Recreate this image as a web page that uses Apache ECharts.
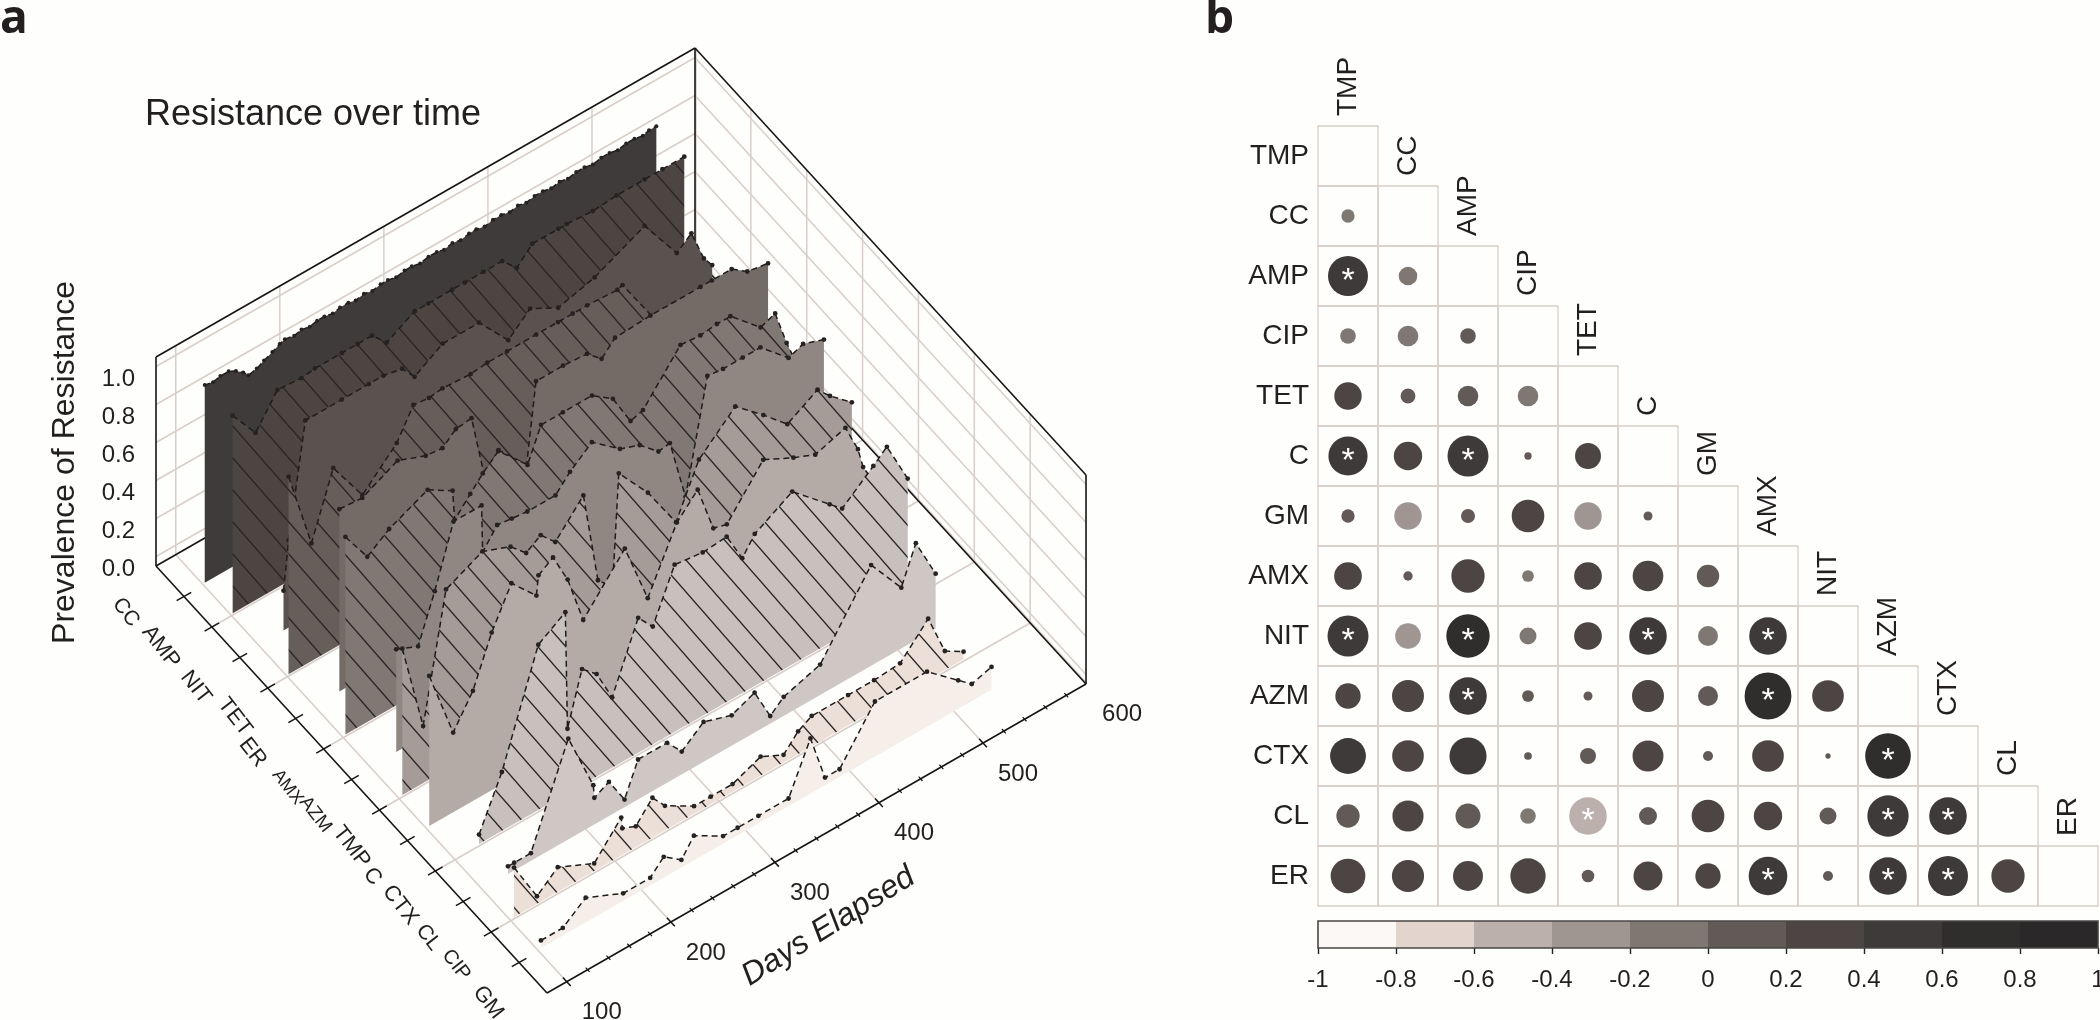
<!DOCTYPE html>
<html><head><meta charset="utf-8">
<script src="https://cdn.jsdelivr.net/npm/echarts@6/dist/echarts.min.js"></script>
<style>html,body{margin:0;padding:0;background:#fefefd}#c{width:2100px;height:1020px}</style>
</head><body><div id="c"></div>
<script>
// ---------- panel a data ----------
const drugsA = ['CC','AMP','NIT','TET','ER','AMX','AZM','TMP','C','CTX','CL','CIP','GM'];
const dayTicks = [100,200,300,400,500,600];
const dayMinorTicks = [120,140,160,180,220,240,260,280,320,340,360,380,420,440,460,480,520,540,560,580];
const zTicks = [0,0.2,0.4,0.6,0.8,1];

const daysCC = [101,109,116,124,131,138,143,151,158,166,173,178,187,194,202,209,216,224,231,239,246,254,262,270,277,285,293,300,308,316,324,331,339,347,355,362,370,378,386,394,402,410,418,426,434,442,450,458,466,474,482,490,498,506,514,522,528,535];
const valsCC = [1,0.99,1,1,0.98,0.95,0.92,0.93,0.95,0.97,0.99,1,0.99,1,0.99,1,1,0.99,1,1,0.99,1,0.99,1,1,0.99,1,1,0.99,1,1,0.99,1,0.99,1,1,0.99,1,1,0.99,1,0.99,1,1,0.99,1,0.99,1,1,0.99,1,1,0.99,1,1,0.99,1,1];
const daysAMP = [101,123,144,167,180,206,221,235,249,276,289,312,324,342,360,374,389,414,422,447,470,497,514,535];
const valsAMP = [1,0.84,1,0.99,1,1,1,1,0.92,1,1,1,1,1,1,0.92,1,1,1,0.99,1,1,1,1];
const daysNIT = [123,128,144,179,205,219,237,249,276,311,339,360,387,422,470,501,515,527,535];
const valsNIT = [0.17,0.42,1,1,1,1,0.98,0.9,0.99,0.99,0.81,0.91,0.83,0.88,1,0.76,0.82,0.65,0.59];
const daysTET = [101,123,144,172,205,221,236,249,276,292,311,339,360,374,388,417,422,450,478,505,535];
const valsTET = [1,0.58,0.91,0.68,0.85,1,0.99,1,0.99,1,1,1,1,1,1,0.99,1,0.75,0.72,0.7,0.68];
const daysER = [123,145,179,206,222,235,250,262,276,303,312,338,361,375,388,422,470,481,500,515,535];
const valsER = [0.92,0.91,1,0.94,0.93,0.99,1,0.67,0.75,0.59,1,1,0.99,0.92,0.99,1,1,1,1,0.94,0.92];
const daysAMX = [102,123,144,181,205,207,222,234,249,277,290,311,339,359,376,388,424,443,459,472,501,515,526,535];
const valsAMX = [1,0.83,0.91,1,0.92,0.76,0.85,0.92,0.99,0.83,1,1,1,0.92,0.75,0.77,1,0.99,1,1,0.85,0.88,0.69,0.56];
const daysAZM = [124,145,161,179,206,207,221,235,250,277,291,312,339,358,376,387,402,423,438,457,474,501,515,535];
const valsAZM = [0.5,0.45,0.69,1,1,0.75,0.85,0.84,0.83,0.83,0.91,1,0.88,0.84,0.75,0.76,0.43,1,0.99,0.99,0.99,0.85,0.88,0.84];
const daysTMP = [103,123,145,180,207,222,236,250,277,291,305,311,339,366,388,423,450,473,502,514,535];
const valsTMP = [0.73,0.26,0.91,1,0.94,0.86,0.91,0.83,0.99,0.5,0.42,1,0.81,0.57,0.83,1,0.87,0.75,0.84,0.77,0.67];
const daysC = [102,125,144,162,181,205,207,221,235,250,290,312,340,360,375,388,423,452,473,502,514,519,535];
const valsC = [0.75,0.38,0.54,0.79,0.99,0.85,0.95,1,0.84,0.58,0.83,0.5,0.81,0.92,0.67,0.65,0.88,0.8,0.75,0.8,0.65,0.54,0.37];
const daysCTX = [123,145,180,206,208,222,236,251,276,290,311,338,361,376,388,424,460,472,502,515,535];
const valsCTX = [0.01,0.27,0.83,0.92,0.3,0.57,0.5,0.33,0.67,0.58,0.84,0.82,0.83,0.67,0.76,0.87,0.69,0.63,0.76,0.82,0.59];
const daysCL = [124,130,146,182,206,207,221,236,249,277,291,312,339,361,376,389,424,473,502,516,535];
const valsCL = [0,0,0,0.49,0.17,0.1,0.14,0,0.17,0.17,0.08,0.17,0.12,0.17,0,0.06,0.12,0.49,0.28,0.47,0.25];
const daysCIP = [103,125,145,180,206,207,220,236,248,276,292,313,340,362,376,389,424,449,474,501,517,535];
const valsCIP = [0.22,0,0.09,0,0.16,0.1,0.07,0.17,0.09,0,0,0,0.06,0,0.08,0.12,0.12,0.12,0.13,0.28,0.06,0];
const daysGM = [102,123,145,181,207,220,237,249,277,291,311,340,361,375,389,423,473,503,516,535];
const valsGM = [0,0,0.09,0,0,0.07,0,0.09,0,0,0,0,0.25,0,0,0.25,0.25,0.11,0.05,0.08];

const ribbonDays = [daysCC,daysAMP,daysNIT,daysTET,daysER,daysAMX,daysAZM,daysTMP,daysC,daysCTX,daysCL,daysCIP,daysGM];
const ribbonVals = [valsCC,valsAMP,valsNIT,valsTET,valsER,valsAMX,valsAZM,valsTMP,valsC,valsCTX,valsCL,valsCIP,valsGM];
const ribbonFill = ['#403b3b','#4d4542','#5a524e','#665e59','#736b66','#807873','#908782','#a59c97','#b4aaa6','#c8c0bc','#cfc7c3','#ecdfd7','#f5eee9'];
const catFontSizes = [21,22,22,22,22,18,19,22,22,22,21,20,22];
const catLabelDX = [-58,-51,-44,-33,-43,-36,-36,-28,-35,-35,-35,-35,-31];
const catLabelDY = [16,20,30,29,34,38,35,37,36,34,36,33,40];

// ---------- panel b data ----------
const drugsB = ['TMP','CC','AMP','CIP','TET','C','GM','AMX','NIT','AZM','CTX','CL','ER'];
const rowTMP = [];
const rowCC  = [-0.056];
const rowAMP = [0.51,-0.11];
const rowCIP = [-0.078,-0.136,0.078];
const rowTET = [0.24,0.07,0.136,-0.136];
const rowC   = [0.49,0.256,0.536,0.017,0.215];
const rowGM  = [0.056,-0.24,0.0625,0.34,-0.24,0.026];
const rowAMX = [0.245,0.028,0.354,-0.044,0.245,0.30,0.16];
const rowNIT = [0.536,-0.21,0.60,-0.092,0.245,0.45,-0.128,0.45];
const rowAZM = [0.205,0.326,0.45,0.044,0.026,0.326,0.128,0.70,0.32];
const rowCTX = [0.41,0.32,0.44,0.019,0.082,0.306,0.032,0.32,0.009,0.665];
const rowCL  = [0.173,0.31,0.199,-0.078,-0.45,0.103,0.34,0.256,0.092,0.545,0.45];
const rowER  = [0.384,0.33,0.287,0.397,0.051,0.268,0.204,0.477,0.032,0.45,0.51,0.354];
const matrixRows = [rowTMP,rowCC,rowAMP,rowCIP,rowTET,rowC,rowGM,rowAMX,rowNIT,rowAZM,rowCTX,rowCL,rowER];
const starCells = [['AMP','TMP'],['C','TMP'],['C','AMP'],['NIT','TMP'],['NIT','AMP'],['NIT','C'],['NIT','AMX'],['AZM','AMP'],['AZM','AMX'],['CTX','AZM'],['CL','TET'],['CL','AZM'],['CL','CTX'],['ER','AMX'],['ER','AZM'],['ER','CTX']];
const binEdges = [-1,-0.8,-0.6,-0.4,-0.2,0,0.2,0.4,0.6,0.8,1];
const binColors = ['#fbf8f6','#e3d5cd','#bbb0ac','#a09691','#7f7772','#625a56','#4c4543','#3e3a39','#302d2d','#2a2829'];

// ---------- helpers ----------
const SANS = '"Liberation Sans", Arial, sans-serif';
const INK = '#231f20', GRIDC = '#d9cec8', BOX = '#161414';
const GL = 156, catDX = 27.93, catDY = 30.5, dayRise = 0.5733;
const DAY_MIN = 81, DAY_MAX = 599, Z_MIN = -0.05, Z_MAX = 1.05, CAT_MAX = 14, BASE_Z = -0.04;

function proj(api, day, cat, z) {
  const c = api.coord([day, z]);
  return [c[0] + cat * catDX, c[1] + cat * catDY - (c[0] - GL) * dayRise];
}
function seg(a, b, stroke, w) {
  return {type:'line', shape:{x1:a[0],y1:a[1],x2:b[0],y2:b[1]}, style:{stroke:stroke, lineWidth:w, fill:'none'}, silent:true};
}
function txt(x, y, s, size, opts) {
  opts = opts || {};
  return {type:'text', x:x, y:y, rotation:opts.rot||0, silent:true,
    style:{text:s, fill:INK, font:(opts.style||'')+' '+size+'px '+SANS, align:opts.align||'center', verticalAlign:opts.va||'middle'}};
}
function hatch(bg) {
  const W = 28, H = 32, cv = document.createElement('canvas');
  cv.width = W; cv.height = H;
  const g = cv.getContext('2d');
  g.fillStyle = bg; g.fillRect(0,0,W,H);
  g.strokeStyle = '#2a2626'; g.lineWidth = 1.4;
  g.beginPath();
  g.moveTo(-W,-H); g.lineTo(2*W,2*H);
  g.moveTo(0,-H); g.lineTo(2*W,H);
  g.moveTo(-W,0); g.lineTo(W,2*H);
  g.stroke();
  return {image:cv, repeat:'repeat'};
}

function frameBack(params, api) {
  const ch = [];
  const L = (d,c,z) => proj(api,d,c,z);
  zTicks.forEach(z => {
    ch.push(seg(L(DAY_MIN,0,z), L(DAY_MAX,0,z), GRIDC, 1.5));
    ch.push(seg(L(DAY_MAX,0,z), L(DAY_MAX,CAT_MAX,z), GRIDC, 1.5));
  });
  dayTicks.forEach(d => {
    ch.push(seg(L(d,0,Z_MIN), L(d,0,Z_MAX), GRIDC, 1.5));
    ch.push(seg(L(d,0,Z_MIN), L(d,CAT_MAX,Z_MIN), GRIDC, 1.5));
  });
  drugsA.forEach((n,i) => {
    const c = i + 1;
    if (c % 2 === 0) {
      ch.push(seg(L(DAY_MAX,c,Z_MIN), L(DAY_MAX,c,Z_MAX), GRIDC, 1.5));
      ch.push(seg(L(DAY_MIN,c,Z_MIN), L(DAY_MAX,c,Z_MIN), GRIDC, 1.5));
    }
  });
  // box
  const box = [
    [[DAY_MIN,0,Z_MIN],[DAY_MIN,0,Z_MAX]], [[DAY_MAX,0,Z_MIN],[DAY_MAX,0,Z_MAX]], [[DAY_MAX,CAT_MAX,Z_MIN],[DAY_MAX,CAT_MAX,Z_MAX]],
    [[DAY_MIN,0,Z_MAX],[DAY_MAX,0,Z_MAX]], [[DAY_MAX,0,Z_MAX],[DAY_MAX,CAT_MAX,Z_MAX]],
    [[DAY_MIN,0,Z_MIN],[DAY_MAX,0,Z_MIN]], [[DAY_MAX,0,Z_MIN],[DAY_MAX,CAT_MAX,Z_MIN]],
    [[DAY_MIN,0,Z_MIN],[DAY_MIN,CAT_MAX,Z_MIN]], [[DAY_MIN,CAT_MAX,Z_MIN],[DAY_MAX,CAT_MAX,Z_MIN]]
  ];
  box.forEach(b => ch.push(seg(L.apply(null,b[0]), L.apply(null,b[1]), BOX, 1.6)));
  // ticks
  drugsA.forEach((n,i) => {
    const c = i + 1;
    ch.push(seg(L(DAY_MIN-7,c,Z_MIN), L(DAY_MIN+7,c,Z_MIN), BOX, 1.5));
    const p = L(DAY_MIN,c,Z_MIN);
    ch.push(txt(p[0]+catLabelDX[i], p[1]+catLabelDY[i], n, catFontSizes[i], {rot:-52*Math.PI/180}));
  });
  dayTicks.forEach(d => {
    if (d <= DAY_MAX) ch.push(seg(L(d,CAT_MAX-0.14,Z_MIN), L(d,CAT_MAX+0.14,Z_MIN), BOX, 1.5));
    const p = L(d,CAT_MAX,Z_MIN);
    ch.push(txt(p[0]+35, p[1]+31, String(d), 24));
  });
  dayMinorTicks.forEach(d => ch.push(seg(L(d,CAT_MAX-0.07,Z_MIN), L(d,CAT_MAX+0.07,Z_MIN), BOX, 1.2)));
  zTicks.forEach(z => {
    const p = L(DAY_MIN,0,z);
    ch.push(txt(p[0]-21, p[1]+13, z.toFixed(1), 24, {align:'right'}));
  });
  const cz = L((DAY_MIN+DAY_MAX)/2, CAT_MAX, Z_MIN);
  ch.push(txt(cz[0]+12, cz[1]+88, 'Days Elapsed', 32, {rot:32*Math.PI/180, style:'italic'}));
  const ly = api.coord([DAY_MIN,0.5]);
  ch.push(txt(ly[0]-91, ly[1]+1, 'Prevalence of Resistance', 32, {rot:Math.PI/2}));
  return {type:'group', children:ch};
}

function ribbon(i) {
  const fillStyle = i % 2 === 1 ? hatch(ribbonFill[i]) : ribbonFill[i];
  return function(params, api) {
    const days = ribbonDays[i], vals = ribbonVals[i], c = i + 1;
    const pts = days.map((d,k) => proj(api,d,c,vals[k]));
    const poly = [proj(api,days[0],c,BASE_Z)].concat(pts, [proj(api,days[days.length-1],c,BASE_Z)]);
    const r = i === 0 ? 2 : 2.4;
    const ch = [
      {type:'polygon', shape:{points:poly}, style:{fill:fillStyle, stroke:'none'}, silent:true},
      {type:'polyline', shape:{points:pts}, style:{stroke:'#1f1c1c', lineWidth:1.5, lineDash:[6,4], fill:'none'}, silent:true}
    ];
    pts.forEach(p => ch.push({type:'circle', shape:{cx:p[0],cy:p[1],r:r}, style:{fill:'#262222', stroke:'none'}, silent:true}));
    return {type:'group', children:ch};
  };
}

function binColor(r) {
  for (let k = 0; k < binColors.length; k++) if (r < binEdges[k+1]) return binColors[k];
  return binColors[binColors.length-1];
}
const isStar = (row,col) => starCells.some(s => s[0]===drugsB[row] && s[1]===drugsB[col]);

const cellData = [], dotData = [];
drugsB.forEach((n,row) => {
  for (let col = 0; col <= row; col++) cellData.push([col,row]);
  matrixRows[row].forEach((r,col) => dotData.push([col,row,r,isStar(row,col)?1:0]));
});

const series = [];
series.push({type:'custom', name:'frame', xAxisIndex:0, yAxisIndex:0, data:[[100,0]], renderItem:frameBack, silent:true, z:1, clip:false, animation:false});
drugsA.forEach((n,i) => series.push({type:'custom', name:n, xAxisIndex:0, yAxisIndex:0, data:[[ribbonDays[i][0],0]], renderItem:ribbon(i), silent:true, z:2+i, animation:false}));

series.push({type:'custom', name:'cells', xAxisIndex:1, yAxisIndex:1, data:cellData, z:2, silent:true, animation:false,
  renderItem:(p,api)=>{
    const c = api.coord([api.value(0),api.value(1)]), s = api.size([1,1]);
    return {type:'rect', shape:{x:c[0]-s[0]/2,y:c[1]-s[1]/2,width:s[0],height:s[1]}, style:{fill:'none',stroke:GRIDC,lineWidth:1.3}};
  }});
series.push({type:'custom', name:'columnLabels', xAxisIndex:1, yAxisIndex:1, data:drugsB.map((n,j)=>[j,j]), z:3, silent:true, animation:false,
  renderItem:(p,api)=>{
    const j = api.value(0), c = api.coord([j,j]), s = api.size([1,1]);
    return txt(c[0], c[1]-s[1]/2-10, drugsB[j], 28, {rot:Math.PI/2, align:'left'});
  }});
series.push({type:'scatter', name:'corr', xAxisIndex:1, yAxisIndex:1, data:dotData, z:4, silent:true, animation:false,
  symbol:'circle', symbolSize:v=>56*Math.sqrt(Math.abs(v[2])),
  itemStyle:{opacity:1, color:p=>binColor(p.value[2])},
  label:{show:true, position:'inside', offset:[0,6], color:'#fff', fontSize:34, fontFamily:SANS,
    formatter:p=>p.value[3]?'*':''}
});
series.push({type:'custom', name:'colorbar', xAxisIndex:2, yAxisIndex:2, data:binColors.map((c,k)=>[binEdges[k],binEdges[k+1]]), z:2, silent:true, animation:false,
  renderItem:(p,api)=>{
    const a = api.coord([api.value(0),1]), b = api.coord([api.value(1),0]);
    return {type:'rect', shape:{x:a[0],y:a[1],width:b[0]-a[0],height:b[1]-a[1]}, style:{fill:binColors[p.dataIndex]}};
  }});
series.push({type:'custom', name:'colorbarFrame', xAxisIndex:2, yAxisIndex:2, data:[[-1,0]], z:3, silent:true, animation:false,
  renderItem:(p,api)=>{
    const a = api.coord([-1,1]), b = api.coord([1,0]);
    return {type:'rect', shape:{x:a[0],y:a[1],width:b[0]-a[0],height:b[1]-a[1]}, style:{fill:'none',stroke:'#4a4544',lineWidth:1.6}};
  }});

const chart = echarts.init(document.getElementById('c'), null, {renderer:'canvas', width:2100, height:1020, devicePixelRatio:1});
chart.setOption({
  backgroundColor:'#fefefd',
  animation:false,
  title:[
    {text:'a', left:-5, top:-8, textStyle:{fontFamily:'"Open Sans"', fontWeight:'bold', fontSize:46, color:INK}},
    {text:'b', left:1200, top:-8, textStyle:{fontFamily:'"Open Sans"', fontWeight:'bold', fontSize:46, color:INK}},
    {text:'Resistance over time', left:140, top:92, textStyle:{fontFamily:SANS, fontWeight:'normal', fontSize:36, color:INK}}
  ],
  grid:[
    {left:GL, top:357, width:539, height:209, outerBoundsMode:'none'},
    {left:1318, top:126, width:780, height:780, outerBoundsMode:'none'},
    {left:1318, top:921, width:780, height:27, outerBoundsMode:'none'}
  ],
  xAxis:[
    {type:'value', gridIndex:0, min:DAY_MIN, max:DAY_MAX, show:false},
    {type:'category', gridIndex:1, data:drugsB, show:false},
    {type:'value', gridIndex:2, min:-1, max:1, interval:0.2, position:'bottom',
      axisLine:{show:false}, splitLine:{show:false},
      axisTick:{show:true, length:6, lineStyle:{color:'#222',width:1.4}},
      axisLabel:{margin:20, fontFamily:SANS, fontSize:24, color:INK, showMinLabel:true, showMaxLabel:true, hideOverlap:false,
        formatter:v=>String(Math.round(v*10)/10)}}
  ],
  yAxis:[
    {type:'value', gridIndex:0, min:Z_MIN, max:Z_MAX, show:false},
    {type:'category', gridIndex:1, data:drugsB, inverse:true,
      axisLine:{show:false}, axisTick:{show:false}, splitLine:{show:false},
      axisLabel:{margin:9, fontFamily:SANS, fontSize:28, color:INK, padding:[0,0,6,0]}},
    {type:'value', gridIndex:2, min:0, max:1, show:false}
  ],
  series:series
});
</script></body></html>
